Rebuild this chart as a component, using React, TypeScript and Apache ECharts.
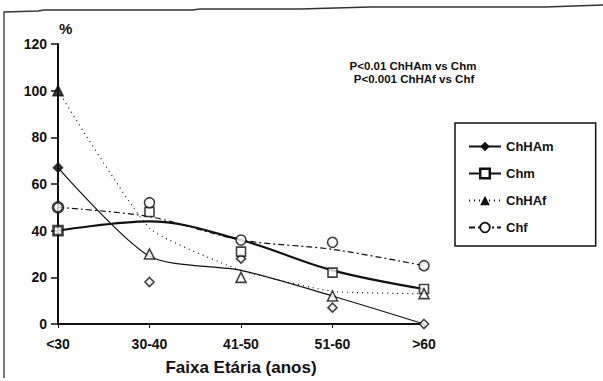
import React, { useEffect, useRef } from "react";
import * as echarts from "echarts";

const categories = ["<30", "30-40", "41-50", "51-60", ">60"];

// observed values (markers)
const chhamObserved = [67, 18, 28, 7, 0];
const chmObserved = [40, 48, 31, 22, 15];
const chhafObserved = [100, 30, 20, 12, 13];
const chfObserved = [50, 52, 36, 35, 25];

// fitted curves (lines)
const chhamTrend = [67, 29, 23, 12, 0];
const chmTrend = [40, 44, 36, 23, 15];
const chhafTrend = [100, 41, 23, 14, 13];
const chfTrend = [50, 46, 36, 32, 25];

const yMin = 0;
const yMax = 120;
const yStep = 20;

const seriesNames = ["ChHAm", "Chm", "ChHAf", "Chf"];
const noteLines = ["P<0.01 ChHAm vs Chm", "P<0.001 ChHAf vs Chf"];
const xTitle = "Faixa Etária (anos)";
const yTitle = "%";

const FONT = "'Liberation Sans', Arial, Helvetica, sans-serif";

export default function App() {
  const ref = useRef<HTMLDivElement>(null);
  useEffect(() => {
    if (!ref.current) return;
    const chart = echarts.init(ref.current, null, { renderer: "svg" });

    const hollow = { color: "#fff", borderColor: "#111", borderWidth: 1.6 };
    const obs = (
      name: string,
      data: number[],
      symbol: string,
      size: number,
      fillFirst: boolean
    ) => ({
      name: name + " obs",
      type: "scatter",
      data: data.map((v, i) =>
        i === 0
          ? {
              value: v,
              itemStyle: fillFirst
                ? { color: "#111", borderColor: "#111" }
                : { borderWidth: 2.6 },
            }
          : v
      ),
      symbol,
      symbolSize: size,
      itemStyle: hollow,
      z: 5,
    });
    const curve = (
      name: string,
      data: number[],
      symbol: string,
      width: number,
      type: any,
      smooth: number
    ) => ({
      name,
      type: "line",
      data,
      smooth,
      showSymbol: false,
      symbol,
      lineStyle: { color: "#111", width, type },
      itemStyle: { color: "#111" },
      z: 3,
    });

    chart.setOption({
      animation: false,
      backgroundColor: "#fff",
      textStyle: { fontFamily: FONT },
      grid: { left: 58, right: 179, top: 44, bottom: 53, containLabel: false },
      xAxis: {
        type: "category",
        data: categories,
        boundaryGap: false,
        axisLine: { lineStyle: { color: "#111", width: 2 } },
        axisTick: { show: true, length: 4, lineStyle: { color: "#111", width: 1 } },
        axisLabel: {
          color: "#111",
          fontWeight: "bold",
          fontSize: 14,
          margin: 13,
          fontFamily: FONT,
        },
        name: xTitle,
        nameLocation: "middle",
        nameGap: 35,
        nameTextStyle: {
          color: "#111",
          fontWeight: "bold",
          fontSize: 17,
          fontFamily: FONT,
        },
        splitLine: { show: false },
      },
      yAxis: {
        type: "value",
        min: yMin,
        max: yMax,
        interval: yStep,
        axisLine: { show: true, lineStyle: { color: "#111", width: 2 } },
        axisTick: { show: true, length: 7, lineStyle: { color: "#111", width: 1.5 } },
        axisLabel: {
          color: "#111",
          fontWeight: "bold",
          fontSize: 14,
          margin: 11,
          fontFamily: FONT,
        },
        splitLine: { show: false },
      },
      legend: {
        orient: "vertical",
        left: 455,
        top: 123,
        padding: [17, 42, 12, 13],
        borderColor: "#111",
        borderWidth: 1.5,
        itemWidth: 32,
        itemHeight: 12,
        itemGap: 14,
        textStyle: {
          color: "#111",
          fontWeight: "bold",
          fontSize: 13,
          fontFamily: FONT,
        },
        data: [
          { name: "ChHAm", itemStyle: { color: "#111" } },
          {
            name: "Chm",
            itemStyle: { color: "#fff", borderColor: "#111", borderWidth: 2.5 },
          },
          { name: "ChHAf", itemStyle: { color: "#111" } },
          {
            name: "Chf",
            itemStyle: { color: "#fff", borderColor: "#111", borderWidth: 1.8 },
          },
        ],
      },
      graphic: [
        {
          type: "text",
          left: 59,
          top: 21,
          style: { text: yTitle, font: `bold 15px ${FONT}`, fill: "#111" },
        },
        {
          type: "text",
          x: 413,
          y: 60,
          style: {
            text: noteLines[0],
            font: `bold 11.5px ${FONT}`,
            fill: "#111",
            align: "center",
          },
        },
        {
          type: "text",
          x: 414,
          y: 73,
          style: {
            text: noteLines[1],
            font: `bold 11.5px ${FONT}`,
            fill: "#111",
            align: "center",
          },
        },
        {
          type: "polyline",
          shape: {
            points: [
              [4, 378],
              [4, 12],
              [38, 11],
              [44, 10],
              [192, 10],
              [200, 9],
              [300, 9],
              [370, 7],
              [545, 7],
              [603, 5],
            ],
          },
          style: { stroke: "#333", lineWidth: 1.3, fill: "none" },
          silent: true,
        },
      ],
      series: [
        curve(seriesNames[0], chhamTrend, "diamond", 1.2, "solid", 0.25),
        curve(seriesNames[1], chmTrend, "rect", 2.2, "solid", 0.35),
        curve(seriesNames[2], chhafTrend, "triangle", 1.2, [1, 4], 0.15),
        curve(seriesNames[3], chfTrend, "circle", 1.2, [6, 3, 2, 3], 0.3),
        obs(seriesNames[0], chhamObserved, "diamond", 9, true),
        obs(seriesNames[1], chmObserved, "rect", 9, false),
        obs(seriesNames[2], chhafObserved, "triangle", 10, true),
        obs(seriesNames[3], chfObserved, "circle", 10, false),
      ],
    });
    return () => chart.dispose();
  }, []);
  return (
    <div
      ref={ref}
      style={{ position: "fixed", left: 0, top: 0, width: 603, height: 381 }}
    />
  );
}
